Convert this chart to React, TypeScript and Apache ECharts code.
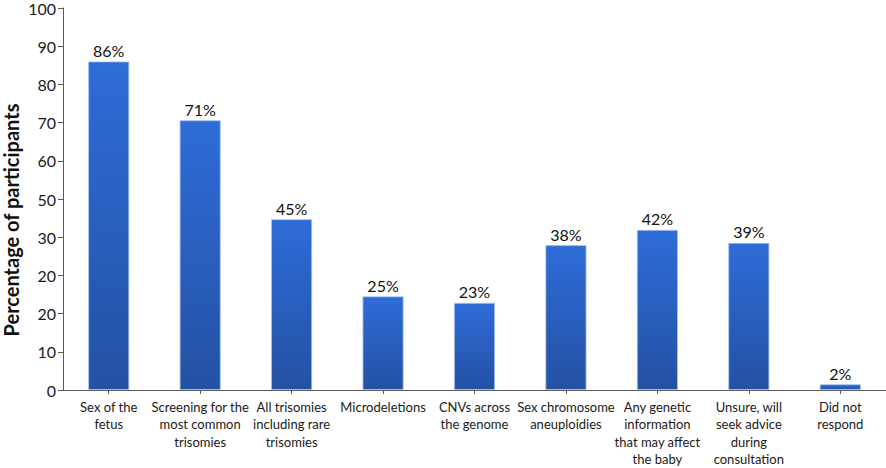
import React, { useEffect, useRef } from "react";
import * as echarts from "echarts";

const categories = [
  "Sex of the\nfetus",
  "Screening for the\nmost common\ntrisomies",
  "All trisomies\nincluding rare\ntrisomies",
  "Microdeletions",
  "CNVs across\nthe genome",
  "Sex chromosome\naneuploidies",
  "Any genetic\ninformation\nthat may affect\nthe baby",
  "Unsure, will\nseek advice\nduring\nconsultation",
  "Did not\nrespond",
];
const values = [86, 70.6, 44.7, 24.5, 22.8, 37.9, 41.9, 38.5, 1.5];
const barLabels = ["86%", "71%", "45%", "25%", "23%", "38%", "42%", "39%", "2%"];
const yTickLabels = ["0", "10", "20", "20", "30", "50", "60", "70", "80", "90", "100"];
const yAxisTitle = "Percentage of participants";

const FONT = "Lato, 'Open Sans', sans-serif";

export default function App() {
  const ref = useRef<HTMLDivElement>(null);
  useEffect(() => {
    if (!ref.current) return;
    const chart = echarts.init(ref.current, null, { renderer: "svg" });
    chart.setOption({
      animation: false,
      backgroundColor: "#ffffff",
      grid: { left: 63, top: 7, right: 0, bottom: 77, containLabel: false },
      graphic: [
        {
          type: "text",
          x: 11,
          y: 220,
          rotation: Math.PI / 2,
          style: {
            text: yAxisTitle,
            align: "center",
            verticalAlign: "middle",
            fontSize: 20,
            fontWeight: "bold",
            fontFamily: FONT,
            fill: "#111",
          },
        },
      ],
      xAxis: {
        type: "category",
        data: categories,
        axisLine: { lineStyle: { color: "#595959", width: 1 } },
        axisTick: { show: true, alignWithLabel: true, length: 4, lineStyle: { color: "#595959" } },
        axisLabel: {
          interval: 0,
          color: "#1a1a1a",
          fontSize: 13,
          fontFamily: FONT,
          lineHeight: 17.5,
          margin: 8,
          align: "center",
        },
      },
      yAxis: {
        type: "value",
        min: 0,
        max: 100,
        interval: 10,
        axisLine: { show: true, lineStyle: { color: "#595959", width: 1 } },
        axisTick: { show: true, length: 5, inside: false, lineStyle: { color: "#595959" } },
        splitLine: { show: false },
        axisLabel: {
          color: "#1a1a1a",
          fontSize: 16,
          fontFamily: FONT,
          margin: 7,
          formatter: (v: number) => yTickLabels[Math.round(v / 10)] ?? String(v),
        },
      },
      series: [
        {
          type: "bar",
          data: values,
          barWidth: 41,
          itemStyle: {
            color: new echarts.graphic.LinearGradient(0, 0, 0, 1, [
              { offset: 0, color: "#2E6CD8" },
              { offset: 1, color: "#2451A3" },
            ]),
            borderColor: "#a9c1ec",
            borderWidth: 0.8,
          },
          label: {
            show: true,
            position: "top",
            distance: 3,
            color: "#111",
            fontSize: 16,
            fontFamily: FONT,
            formatter: (p: any) => barLabels[p.dataIndex],
          },
        },
      ],
    });
    return () => chart.dispose();
  }, []);
  return <div ref={ref} style={{ width: 886, height: 468, position: "absolute", left: 0, top: 0 }} />;
}
